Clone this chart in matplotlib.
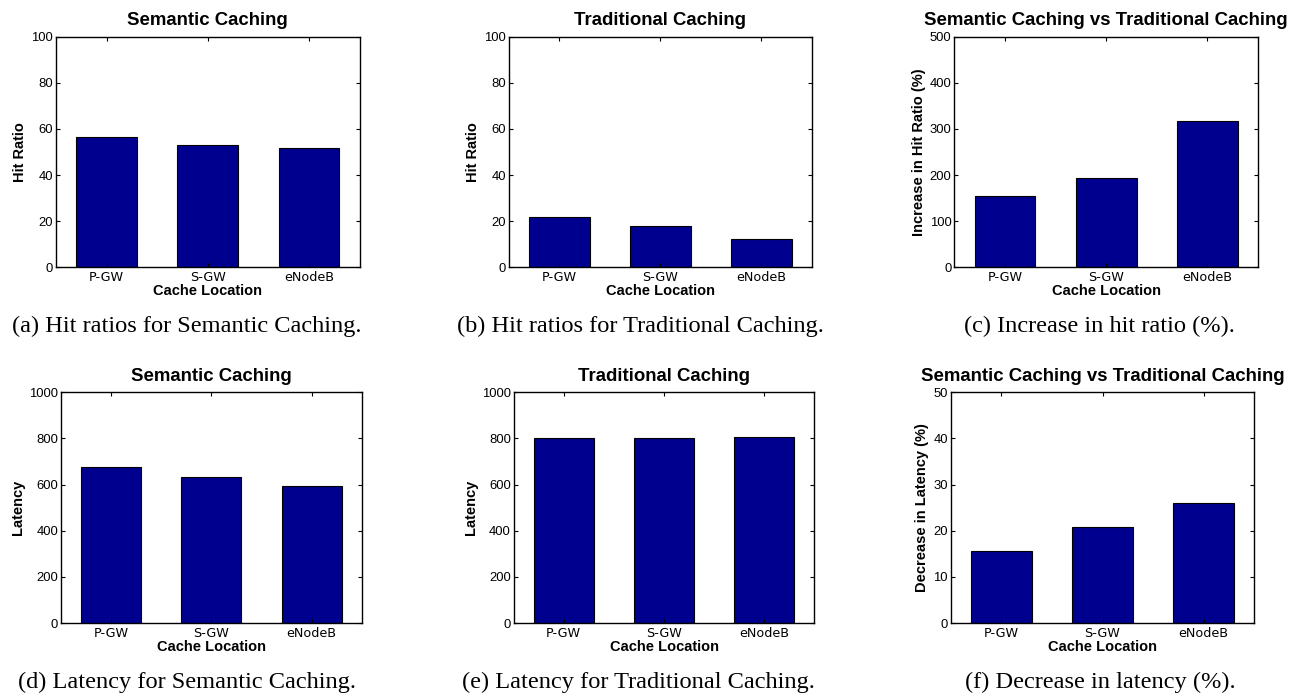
import matplotlib
matplotlib.use('Agg')
import matplotlib.pyplot as plt

locations = ['P-GW', 'S-GW', 'eNodeB']
semantic_hit = [56.6, 53.0, 51.6]
traditional_hit = [22.0, 17.9, 12.3]
hit_increase = [155.3, 193.6, 316.5]
semantic_latency = [677.7, 634.4, 595.4]
traditional_latency = [803.5, 800.6, 806.4]
latency_decrease = [15.6, 20.7, 26.1]

W, H = 1299, 696
BAR_COLOR = '#00008F'

# (left, top, right, bottom) в пикселях
panels = [
    ((56, 36.7, 359.7, 267.3), semantic_hit, 'Semantic Caching', 'Hit Ratio', 100, 20,
     '(a) Hit ratios for Semantic Caching.', 187, 332),
    ((508.7, 36.7, 812, 267.3), traditional_hit, 'Traditional Caching', 'Hit Ratio', 100, 20,
     '(b) Hit ratios for Traditional Caching.', 640, 332),
    ((954.3, 36.7, 1258, 267.3), hit_increase, 'Semantic Caching vs Traditional Caching',
     'Increase in Hit Ratio (%)', 500, 100, '(c) Increase in hit ratio (%).', 1099, 332),
    ((61, 392.3, 361.7, 623), semantic_latency, 'Semantic Caching', 'Latency', 1000, 200,
     '(d) Latency for Semantic Caching.', 187, 688),
    ((513.7, 392.3, 814.3, 623), traditional_latency, 'Traditional Caching', 'Latency', 1000, 200,
     '(e) Latency for Traditional Caching.', 638, 688),
    ((950.7, 392.3, 1254.3, 623), latency_decrease, 'Semantic Caching vs Traditional Caching',
     'Decrease in Latency (%)', 50, 10, '(f) Decrease in latency (%).', 1100, 688),
]

fig = plt.figure(figsize=(W / 100, H / 100), dpi=100)
plt.rcParams['font.family'] = ['Liberation Sans', 'DejaVu Sans']

for (l, t, r, b), values, title, ylabel, ymax, ystep, caption, cx, cy in panels:
    ax = fig.add_axes([l / W, 1 - b / H, (r - l) / W, (b - t) / H])
    x = range(1, len(locations) + 1)
    ax.bar(x, values, width=0.6, color=BAR_COLOR, edgecolor='black', linewidth=0.8)
    ax.set_xlim(0.5, 3.5)
    ax.set_ylim(0, ymax)
    ax.set_yticks(range(0, ymax + 1, ystep))
    ax.set_xticks(list(x))
    ax.set_xticklabels(locations, family='DejaVu Sans', fontsize=9.2)
    ax.tick_params(axis='y', labelsize=9.4, pad=2)
    ax.tick_params(axis='x', pad=3)
    ax.tick_params(direction='in', length=3, width=0.8, top=True, right=True)
    for s in ax.spines.values():
        s.set_linewidth(1.0)
    ax.set_title(title, fontsize=13.4, fontweight='bold', pad=8.4)
    ax.set_xlabel('Cache Location', fontsize=10.5, fontweight='bold', labelpad=0)
    ax.set_ylabel(ylabel, fontsize=10.5, fontweight='bold', labelpad=3)

    # Подпись под графиком
    fig.text(cx / W, 1 - cy / H, caption, ha='center', va='baseline',
             family='Liberation Serif', fontsize=17.6)

plt.savefig('out.png', dpi=100)
